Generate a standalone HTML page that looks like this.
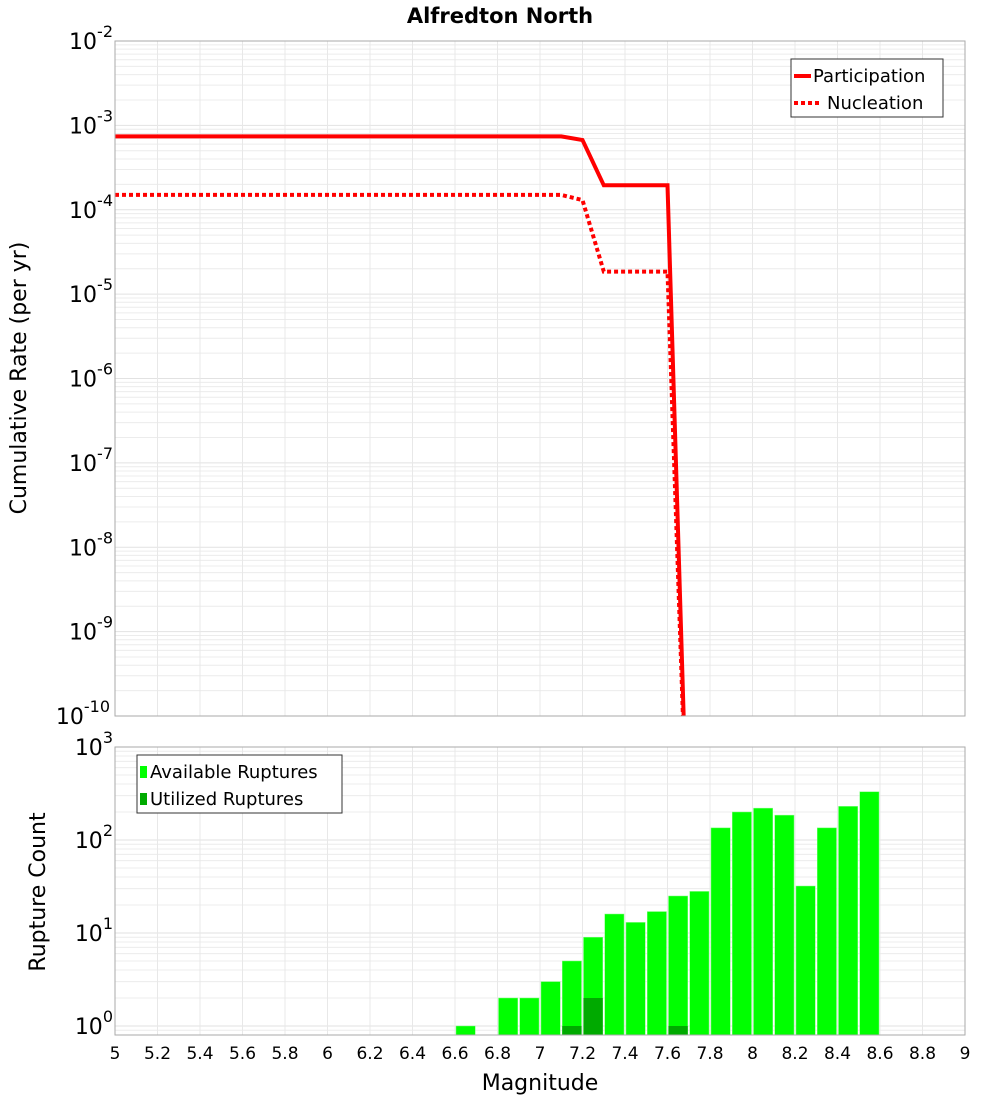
<!DOCTYPE html>
<html><head><meta charset="utf-8"><style>
body{margin:0;background:#fff;font-family:"DejaVu Sans","Liberation Sans",sans-serif}
svg text{font-family:"DejaVu Sans","Liberation Sans",sans-serif}
</style></head><body>
<svg id="c" width="1000" height="1100" xmlns="http://www.w3.org/2000/svg">
<text x="500" y="23" text-anchor="middle" font-size="21" font-weight="bold">Alfredton North</text>
<text transform="translate(26,378) rotate(-90)" text-anchor="middle" font-size="22">Cumulative Rate (per yr)</text>
<text transform="translate(45,892) rotate(-90)" text-anchor="middle" font-size="22">Rupture Count</text>
<text x="540" y="1090" text-anchor="middle" font-size="22">Magnitude</text>
<g id="g"></g>
</svg>
<script>
const mags=[5,7.1,7.2,7.3,7.6,7.7];
const participation=[7.4e-4,7.4e-4,6.7e-4,1.95e-4,1.95e-4,1e-12];
const nucleation=[1.5e-4,1.5e-4,1.3e-4,1.85e-5,1.85e-5,1e-12];
const binCenters=[6.65,6.85,6.95,7.05,7.15,7.25,7.35,7.45,7.55,7.65,7.75,7.85,7.95,8.05,8.15,8.25,8.35,8.45,8.55];
const available=[1,2,2,3,5,9,16,13,17,25,28,135,200,220,185,32,135,230,330];
const utilizedCenters=[7.15,7.25,7.65];
const utilized=[1,2,1];
const xTicks=[5,5.2,5.4,5.6,5.8,6,6.2,6.4,6.6,6.8,7,7.2,7.4,7.6,7.8,8,8.2,8.4,8.6,8.8,9];
const topExps=[-2,-3,-4,-5,-6,-7,-8,-9,-10];
const botExps=[0,1,2,3];

const NS="http://www.w3.org/2000/svg",G=document.getElementById('g');
function el(t,a,p){const e=document.createElementNS(NS,t);for(const k in a)e.setAttribute(k,a[k]);(p||G).appendChild(e);return e;}
const L=115,R=965;
const X=m=>L+(m-5)/4*(R-L);
const T0=41,T1=716; const YT=v=>T0+(-2-Math.log10(v))/8*(T1-T0);
const B0=747,B1=1035,BD=93; const YB=v=>B0+(3-Math.log10(v))*BD;

// grids
function grid(y0,y1,Yf,lo,hi){
 for(let e=lo;e<hi;e++)for(let k=1;k<10;k++){const y=Yf(k*Math.pow(10,e));if(y>=y0&&y<=y1){const l=el('line',{x1:L,x2:R,y1:y,y2:y,stroke:k==1?'#e2e2e2':'#ececec','stroke-width':1});}}
 xTicks.forEach(m=>{const l=el('line',{x1:X(m),x2:X(m),y1:y0,y2:y1,stroke:'#e8e8e8','stroke-width':1});});
}
grid(T0,T1,YT,-10,-1);
grid(B0,B1,YB,-1,3);

// top lines
const cp=el('clipPath',{id:'ct'});el('rect',{x:L,y:T0,width:R-L,height:T1-T0},cp);
function path(vals,dash,name){let d='';mags.forEach((m,i)=>{d+=(i?'L':'M')+X(m).toFixed(1)+','+YT(vals[i]).toFixed(1);});
 const p=el('path',{d:d,fill:'none',stroke:'#f00','stroke-width':4,'clip-path':'url(#ct)'});if(dash)p.setAttribute('stroke-dasharray','4 3');
 }
path(nucleation,true,'nucleation-line');
path(participation,false,'participation-line');

// bars
const bw=(X(5.1)-X(5))-2;
binCenters.forEach((c,i)=>{const y=Math.max(B0,YB(available[i]));const r=el('rect',{x:X(c)-bw/2,y:y,width:bw,height:B1-y,fill:'#00ff00',stroke:'#7fff7f','stroke-width':0.5});
 });
utilizedCenters.forEach((c,i)=>{const y=YB(utilized[i]);const r=el('rect',{x:X(c)-bw/2,y:y,width:bw,height:B1-y,fill:'#00aa00'});
 });

// frames
[[T0,T1],[B0,B1]].forEach(([a,b])=>{const r=el('rect',{x:L,y:a,width:R-L,height:b-a,fill:'none',stroke:'#aaa','stroke-width':1});});

// tick labels
function sup(x,y,e,name){const t=el('text',{x:x,y:y,'text-anchor':'end','font-size':22});
 t.appendChild(document.createTextNode('10'));const s=el('tspan',{dy:-12,'font-size':16},t);s.textContent=String(e);}
topExps.forEach(e=>sup(e<=-10?110:113,YT(Math.pow(10,e))+8,e,'top-y-tick-label'));
botExps.forEach(e=>sup(113,YB(Math.pow(10,e))+8,e,'bottom-y-tick-label'));
xTicks.forEach(m=>{const t=el('text',{x:X(m),y:1059,'text-anchor':'middle','font-size':17});t.textContent=String(m);});

// legends
function legend(x,y,w,h,items,name){const g=el('g',{});
 el('rect',{x:x,y:y,width:w,height:h,fill:'#fff',stroke:'#333','stroke-width':1},g);
 items.forEach((it,i)=>{const yy=y+17+i*27;it.draw(g,yy);const t=el('text',{x:it.tx,y:yy+6,'font-size':18},g);t.textContent=it.label;});}
legend(791,59,152,58,[
 {label:'Participation',tx:813,draw:(g,y)=>el('line',{x1:794,x2:811,y1:y,y2:y,stroke:'#f00','stroke-width':4},g)},
 {label:'Nucleation',tx:827,draw:(g,y)=>el('line',{x1:794,x2:822,y1:y,y2:y,stroke:'#f00','stroke-width':4,'stroke-dasharray':'4 3'},g)}],'top-legend');
legend(137,755,205,58,[
 {label:'Available Ruptures',tx:150,draw:(g,y)=>el('rect',{x:140,y:y-6,width:7,height:12,fill:'#00ff00'},g)},
 {label:'Utilized Ruptures',tx:150,draw:(g,y)=>el('rect',{x:140,y:y-6,width:7,height:12,fill:'#00aa00'},g)}],'bottom-legend');
</script>
</body></html>
